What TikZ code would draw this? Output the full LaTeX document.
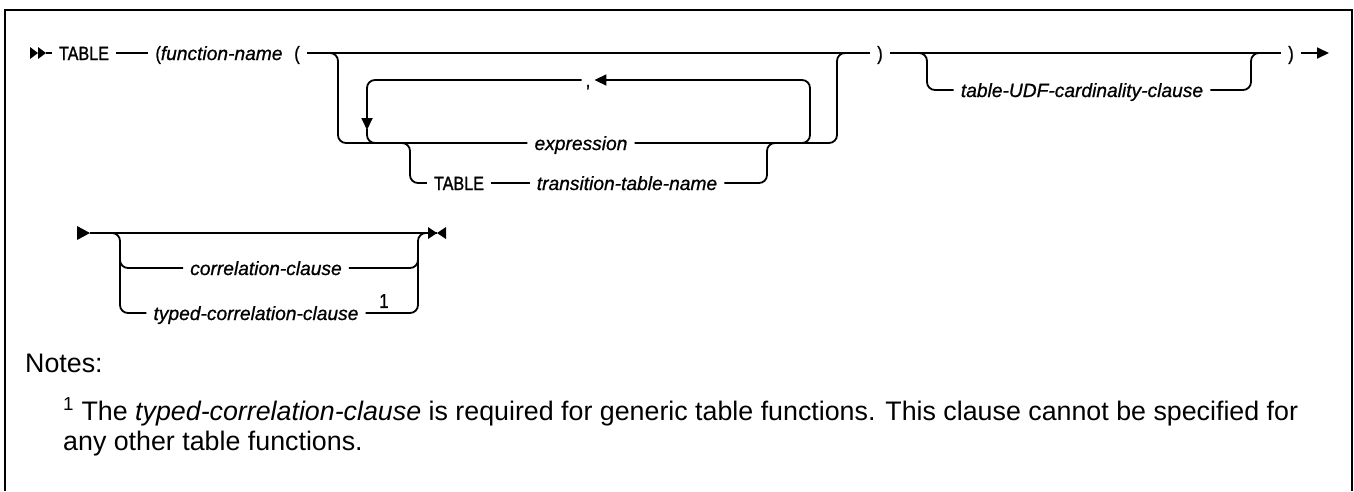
\documentclass[tikz,border=0pt]{standalone}
\usepackage{fontspec}
\setmainfont{Liberation Sans}
\newfontfamily\kwfont[FakeStretch=0.84, FakeBold=1.2]{Liberation Sans}
\newfontfamily\lblfont[FakeBold=0.8]{Liberation Sans}
\usetikzlibrary{arrows.meta, positioning}

\begin{document}
\begin{tikzpicture}[
  x=1pt, y=-1pt,
  track/.style={line width=1.8pt},
  elbow/.style={track, rounded corners=8pt},
  flow/.style={-{Triangle[length=12pt, width=11pt]}},
  lbl/.style={font=\fontsize{19.2}{23}\selectfont\lblfont\itshape,
    inner xsep=7pt, inner ysep=0pt, text height=15pt, text depth=1pt},
  kw/.style={font=\fontsize{19.2}{23}\selectfont\kwfont,
    inner xsep=7pt, inner ysep=0pt, text height=15pt, text depth=1pt},
  note/.style={font=\fontsize{26.8}{30}\selectfont, anchor=base west, inner sep=0pt}
]
  \useasboundingbox (0,0) rectangle (1354,491);
  \draw[line width=2.4pt] (5,491) -- (5,10) -- (1352,10) -- (1352,491);

  \node[kw] (table1) at (84,53) {TABLE};
  \node[lbl] (fname) at (219,53) {{\upshape\kwfont(}function-name};
  \node[kw] (open1) at (297,53) {(};
  \node[kw, inner xsep=4pt] (comma) at (588,80) {,};
  \node[lbl] (expr) at (581,143) {expression};
  \node[kw] (table2) at (459,183) {TABLE};
  \node[lbl] (ttname) at (627,183) {transition-table-name};
  \node[kw] (close1) at (880,53) {)};
  \node[lbl] (udf) at (1082,90) {table-UDF-cardinality-clause};
  \node[kw] (close2) at (1291,53) {)};
  \node[lbl] (corr) at (266,268) {correlation-clause};
  \node[lbl] (typed) at (256,313) {typed-correlation-clause};
  \node[font=\fontsize{20}{20}\selectfont\kwfont, inner sep=0pt] (sup1) at (384,301) {1};

  \coordinate (start1) at (46,53);
  \coordinate (end1) at (1329,53);
  \coordinate (splitA) at (328,53);
  \coordinate (joinA) at (847,53);
  \coordinate (splitB) at (918,53);
  \coordinate (joinB) at (1260,53);
  \coordinate (start2) at (90,233);
  \coordinate (end2) at (437,233);
  \coordinate (splitC) at (112,233);
  \coordinate (joinC) at (427,233);

  \fill (30,47) -- (38,53) -- (30,59) -- cycle;
  \fill (38,47) -- (start1) -- (38,59) -- cycle;
  \draw[track] (start1) -- (table1);
  \draw[track] (table1) -- (fname);
  \draw[track] (open1) -- (close1);
  \draw[track] (close1) -- (close2);
  \draw[track, flow] (close2) -- (end1);

  \draw[elbow] (splitA) -| (338,143) -- (expr);
  \draw[elbow] (expr) -| (837,53) -- (joinA);
  \draw[elbow, flow] (800,143) -| (810,80) -- (comma);
  \draw[elbow, flow] (comma) -| (367,130);
  \draw[elbow] (367,129) |- (384,143);
  \draw[elbow] (400,143) -| (410,183) -- (table2);
  \draw[track] (table2) -- (ttname);
  \draw[elbow] (ttname) -| (767,143) -- (777,143);

  \draw[elbow] (splitB) -| (927,90) -- (udf);
  \draw[elbow] (udf) -| (1251,53) -- (joinB);

  \fill (77,226) -- (start2) -- (77,240) -- cycle;
  \draw[track] (start2) -- (end2);
  \fill (428,227) -- (end2) -- (428,239) -- cycle;
  \fill (446,227) -- (end2) -- (446,239) -- cycle;
  \draw[elbow] (splitC) -| (120,268) -- (corr);
  \draw[elbow] (120,255) |- (typed);
  \draw[elbow] (corr) -| (418,233) -- (joinC);
  \draw[elbow] (typed) -| (418,255);

  \node[note] (notes) at (25,372) {Notes:};
  \node[note] (note1) at (63,420) {\textsuperscript{1} The \textit{typed-correlation-clause} is required for generic table functions. This clause cannot be specified for};
  \node[note] (note2) at (63,450) {any other table functions.};
\end{tikzpicture}
\end{document}
